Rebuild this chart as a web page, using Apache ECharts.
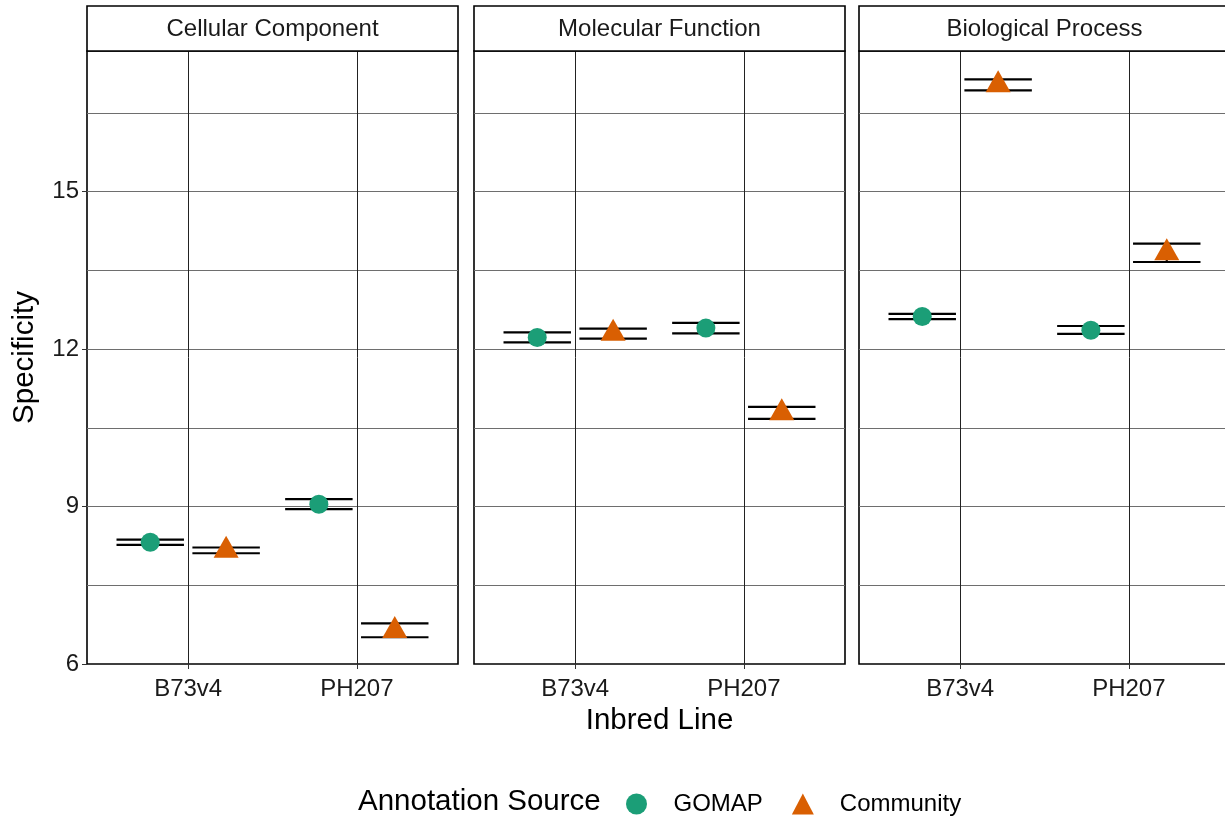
<!DOCTYPE html>
<html>
<head>
<meta charset="utf-8">
<script src="https://cdn.jsdelivr.net/npm/echarts@6/dist/echarts.min.js"></script>
<style>
html,body{margin:0;padding:0;background:#fff;}
#chart{width:1225px;height:821px;}
</style>
</head>
<body>
<div id="chart"></div>
<script>
// ---------- data ----------
const facets = ['Cellular Component', 'Molecular Function', 'Biological Process'];
const inbredLines = ['B73v4', 'PH207'];
const sources = ['GOMAP', 'Community'];
const yTicks = [6, 9, 12, 15];
const yGridBreaks = [7.5, 9, 10.5, 12, 13.5, 15, 16.5];

// Cellular Component
const ccGomapMean = [8.32, 9.045];
const ccGomapLow  = [8.27, 8.95];
const ccGomapHigh = [8.37, 9.14];
const ccCommMean  = [8.165, 6.64];
const ccCommLow   = [8.11, 6.51];
const ccCommHigh  = [8.22, 6.775];
// Molecular Function
const mfGomapMean = [12.22, 12.40];
const mfGomapLow  = [12.13, 12.30];
const mfGomapHigh = [12.32, 12.50];
const mfCommMean  = [12.30, 10.785];
const mfCommLow   = [12.20, 10.67];
const mfCommHigh  = [12.39, 10.90];
// Biological Process
const bpGomapMean = [12.62, 12.36];
const bpGomapLow  = [12.57, 12.29];
const bpGomapHigh = [12.67, 12.44];
const bpCommMean  = [17.035, 13.835];
const bpCommLow   = [16.93, 13.66];
const bpCommHigh  = [17.14, 14.01];

const facetData = [
  {gomap: [ccGomapMean, ccGomapLow, ccGomapHigh], comm: [ccCommMean, ccCommLow, ccCommHigh]},
  {gomap: [mfGomapMean, mfGomapLow, mfGomapHigh], comm: [mfCommMean, mfCommLow, mfCommHigh]},
  {gomap: [bpGomapMean, bpGomapLow, bpGomapHigh], comm: [bpCommMean, bpCommLow, bpCommHigh]}
];

// ---------- layout ----------
const FONT = '"Liberation Sans", Arial, Helvetica, sans-serif';
const colors = {GOMAP: '#1B9E77', Community: '#D95F02'};
const panelLeft = [87, 474, 859];
const panelWidth = 371;
const panelTop = 51;
const panelBottom = 664;
const stripTop = 6;
const dodge = 0.225;
const capHalf = 0.2;
const smallFont = 24;
const bigFont = 29.5;

const chart = echarts.init(document.getElementById('chart'), null, {renderer: 'canvas'});

const grids = [], xAxes = [], yAxes = [], series = [], graphics = [];

facets.forEach((name, i) => {
  grids.push({
    left: panelLeft[i], top: panelTop, width: panelWidth, height: panelBottom - panelTop,
    show: true, borderColor: '#000', borderWidth: 1.6, backgroundColor: '#fff',
    containLabel: false, outerBoundsMode: 'none'
  });
  xAxes.push({
    type: 'value', gridIndex: i, min: 0.4, max: 2.6,
    axisLine: {show: false},
    axisTick: {show: true, customValues: [1, 2], length: 5, lineStyle: {color: '#333', width: 1}},
    axisLabel: {show: true, customValues: [1, 2], margin: 13, color: '#1a1a1a', fontSize: smallFont, fontFamily: FONT,
      formatter: v => inbredLines[Math.round(v) - 1] || ''},
    splitLine: {show: false},
    name: i === 1 ? 'Inbred Line' : '',
    nameLocation: 'middle', nameGap: 40,
    nameTextStyle: {fontSize: bigFont, fontFamily: FONT, color: '#000'}
  });
  yAxes.push({
    type: 'value', gridIndex: i, min: 6, max: 17.68, interval: 1.5,
    axisLine: {show: false},
    axisTick: {show: i === 0, customValues: yTicks, length: 5, lineStyle: {color: '#333', width: 1}},
    axisLabel: {show: i === 0, customValues: yTicks, margin: 8, color: '#1a1a1a', fontSize: smallFont, fontFamily: FONT,
      formatter: v => (Math.abs(v % 3) < 1e-6 ? String(v) : '')},
    splitLine: {show: false},
    name: i === 0 ? 'Specificity' : '',
    nameLocation: 'middle', nameGap: 47, nameRotate: 90,
    nameTextStyle: {fontSize: bigFont, fontFamily: FONT, color: '#000'}
  });

  // grid lines (horizontal at breaks, vertical at categories)
  series.push({
    type: 'line', xAxisIndex: i, yAxisIndex: i, data: [], silent: true, z: 1,
    markLine: {
      silent: true, symbol: ['none', 'none'], label: {show: false}, animation: false,
      emphasis: {disabled: true},
      data: yGridBreaks.map(v => ({yAxis: v, lineStyle: {color: '#6e6e6e', width: 1, type: 'solid'}}))
        .concat(inbredLines.map((_, k) => ({xAxis: k + 1, lineStyle: {color: '#222', width: 1, type: 'solid'}})))
    }
  });

  const fd = facetData[i];
  [['GOMAP', fd.gomap, -dodge], ['Community', fd.comm, dodge]].forEach(([src, arr, off]) => {
    const [mean, low, high] = arr;
    const ebData = inbredLines.map((_, k) => [k + 1 + off, low[k], high[k]]);
    series.push({
      type: 'custom', xAxisIndex: i, yAxisIndex: i, z: 3, silent: true,
      data: ebData,
      renderItem: (params, api) => {
        const x = api.value(0), lo = api.value(1), hi = api.value(2);
        const a = api.coord([x - capHalf, hi]), b = api.coord([x + capHalf, hi]);
        const c = api.coord([x - capHalf, lo]), d = api.coord([x + capHalf, lo]);
        const m1 = api.coord([x, hi]), m2 = api.coord([x, lo]);
        const st = {stroke: '#000', lineWidth: 2.2, lineCap: 'butt'};
        return {type: 'group', children: [
          {type: 'line', shape: {x1: a[0], y1: a[1], x2: b[0], y2: b[1]}, style: st},
          {type: 'line', shape: {x1: c[0], y1: c[1], x2: d[0], y2: d[1]}, style: st},
          {type: 'line', shape: {x1: m1[0], y1: m1[1], x2: m2[0], y2: m2[1]}, style: st}
        ]};
      }
    });
    series.push({
      type: 'scatter', name: src, xAxisIndex: i, yAxisIndex: i, z: 5, silent: true,
      data: inbredLines.map((_, k) => [k + 1 + off, mean[k]]),
      symbol: src === 'GOMAP' ? 'circle' : 'triangle',
      symbolSize: src === 'GOMAP' ? 19 : [25, 22],
      symbolOffset: src === 'GOMAP' ? [0, 0] : [0, -3.5],
      itemStyle: {color: colors[src], opacity: 1},
      emphasis: {disabled: true}
    });
  });

  // strip
  graphics.push({
    type: 'rect', shape: {x: panelLeft[i], y: stripTop, width: panelWidth, height: panelTop - stripTop},
    style: {fill: '#fff', stroke: '#000', lineWidth: 1.6}, z: 10
  });
  graphics.push({
    type: 'text', x: panelLeft[i] + panelWidth / 2, y: (stripTop + panelTop) / 2 + 0.5, z: 11,
    style: {text: name, fill: '#1a1a1a', font: `${smallFont}px ${FONT}`, textAlign: 'center', textVerticalAlign: 'middle'}
  });
});

// legend title
graphics.push({
  type: 'text', x: 358, y: 802, z: 11,
  style: {text: 'Annotation Source', fill: '#000', font: `${bigFont}px ${FONT}`, textAlign: 'left', textVerticalAlign: 'middle'}
});

const option = {
  animation: false,
  backgroundColor: '#fff',
  grid: grids,
  xAxis: xAxes,
  yAxis: yAxes,
  series: series,
  legend: {
    data: [
      {name: 'GOMAP', icon: 'circle', itemStyle: {color: colors.GOMAP}},
      {name: 'Community', icon: 'triangle', itemStyle: {color: colors.Community}}
    ],
    left: 626, top: 792, padding: 0,
    itemWidth: 22, itemHeight: 21, itemGap: 29,
    selectedMode: false,
    textStyle: {fontSize: smallFont, fontFamily: FONT, color: '#000', padding: [0, 0, 0, 21]}
  },
  graphic: graphics
};
chart.setOption(option);
</script>
</body>
</html>
